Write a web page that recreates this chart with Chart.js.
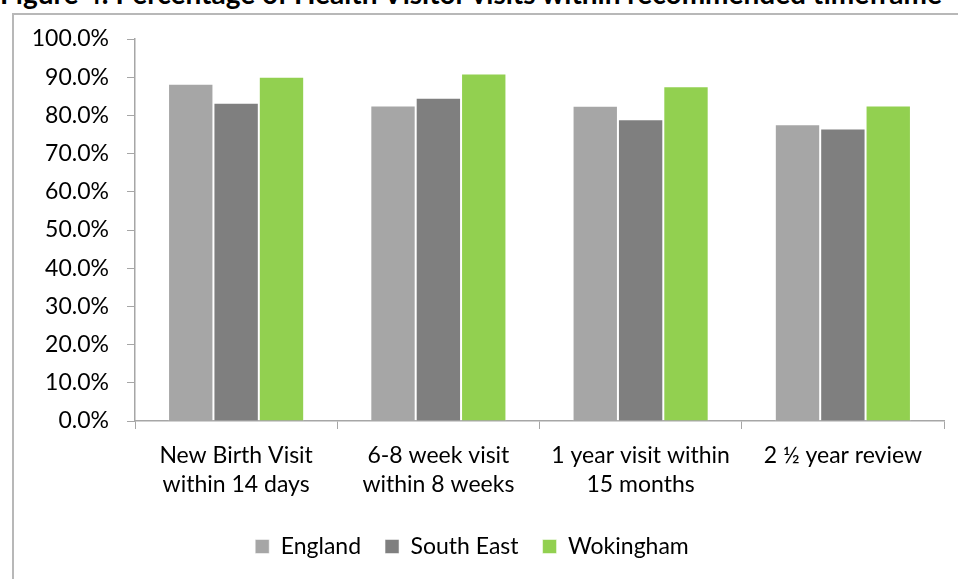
<!DOCTYPE html>
<html>
<head>
<meta charset="utf-8">
<script src="https://cdn.jsdelivr.net/npm/chart.js@4.4.0/dist/chart.umd.min.js"></script>
<style>
  html, body { margin: 0; padding: 0; background: #fff; overflow: hidden; }
  #wrap { position: relative; width: 958px; height: 579px; }
  #heading { position: absolute; left: 0; top: -24px; white-space: nowrap;
    font: bold 28px Lato, sans-serif; color: #000; }
  #frame { position: absolute; left: 12px; top: 13px; width: 1000px; height: 700px;
    border: 2px solid #b8b8b8; box-sizing: border-box; }
  #chart { position: absolute; left: 0; top: 0; }
</style>
</head>
<body>
<div id="wrap">
  <div id="heading">Figure 4: Percentage of Health Visitor visits within recommended timeframe</div>
  <div id="frame"></div>
  <canvas id="chart" width="958" height="579"></canvas>
</div>
<script>
const categories = [
  ['New Birth Visit', 'within 14 days'],
  ['6-8 week visit', 'within 8 weeks'],
  ['1 year visit within', '15 months'],
  ['2 \u00bd year review']
];
const england = [88.3, 82.6, 82.5, 77.7];
const southEast = [83.3, 84.6, 79.0, 76.6];
const wokingham = [90.1, 91.0, 87.6, 82.6];

const seriesNames = ['England', 'South East', 'Wokingham'];
const seriesColors = ['#a6a6a6', '#7f7f7f', '#92d050'];

const font = { family: 'Lato, sans-serif', size: 23 };
const axisGrey = '#a6a6a6';

const ctx = document.getElementById('chart');
new Chart(ctx, {
  type: 'bar',
  data: {
    labels: categories,
    datasets: [england, southEast, wokingham].map((vals, i) => ({
      label: seriesNames[i],
      data: vals,
      backgroundColor: seriesColors[i],
      borderColor: 'rgba(255,255,255,0.5)',
      borderWidth: 1,
      categoryPercentage: 0.673,
      barPercentage: 1
    }))
  },
  options: {
    responsive: false,
    animation: false,
    layout: { padding: { top: 39, right: 14, left: 0, bottom: 11 } },
    plugins: {
      tooltip: { enabled: false },
      legend: {
        position: 'bottom',
        labels: { color: '#000', font: font, boxWidth: 14, boxHeight: 14, padding: 24 }
      }
    },
    scales: {
      x: {
        grid: { offset: true, drawOnChartArea: false, color: axisGrey, tickLength: 8 },
        border: { color: axisGrey, width: 1.5 },
        ticks: { color: '#000', font: { ...font, lineHeight: 1.22 }, maxRotation: 0, padding: 13 },
        afterFit: (scale) => { scale.height = 90; }
      },
      y: {
        min: 0,
        max: 100,
        ticks: {
          stepSize: 10,
          color: '#000',
          font: font,
          padding: 18,
          callback: (v) => v.toFixed(1) + '%'
        },
        grid: { drawOnChartArea: false, color: axisGrey, tickLength: 8 },
        border: { color: axisGrey, width: 1.5 },
        afterFit: (scale) => { scale.width = 135; }
      }
    }
  }
});
</script>
</body>
</html>
